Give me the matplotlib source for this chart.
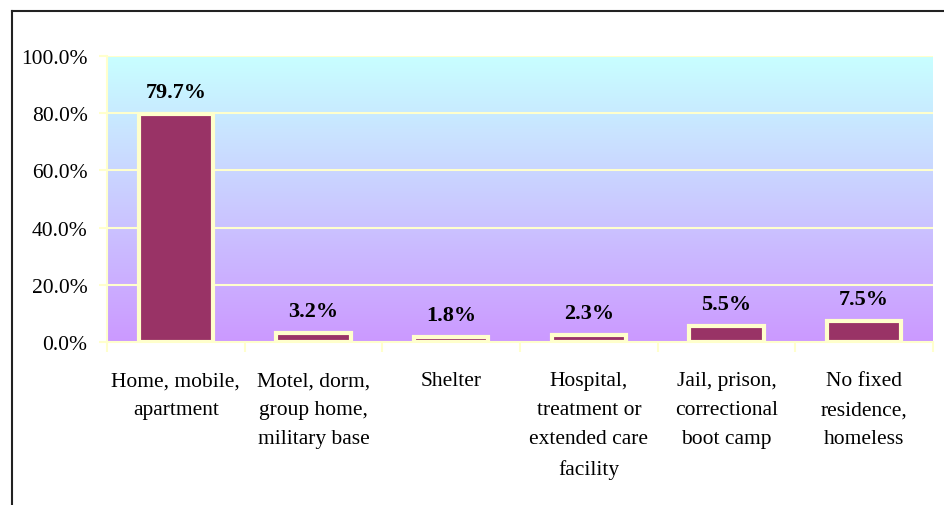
import matplotlib
matplotlib.use("Agg")
import matplotlib.pyplot as plt
import numpy as np
from matplotlib.colors import LinearSegmentedColormap
from matplotlib.lines import Line2D
from matplotlib.ticker import PercentFormatter

categories = ["Home, mobile,\napartment", "Motel, dorm,\ngroup home,\nmilitary base",
              "Shelter", "Hospital,\ntreatment or\nextended care\nfacility",
              "Jail, prison,\ncorrectional\nboot camp", "No fixed\nresidence,\nhomeless"]
values = [79.7, 3.2, 1.8, 2.3, 5.5, 7.5]
yticks = [0, 20, 40, 60, 80, 100]

plt.rcParams['font.family'] = ['Liberation Serif', 'DejaVu Serif']

fig = plt.figure(figsize=(9.45, 5.06), dpi=100)
ax = fig.add_axes([107/945, 1-343/506, (933-107)/945, (343-57)/506])

n = len(categories)
# gradient background
cmap = LinearSegmentedColormap.from_list("bg", ["#CC99FF", "#C8FFFF"])
grad = np.linspace(0, 1, 256).reshape(-1, 1)
ax.imshow(grad, aspect='auto', cmap=cmap, origin='lower',
          extent=[-0.5, n-0.5, 0, 100], zorder=0)

grid_c = "#FFFFCC"
for t in yticks[1:]:
    ax.axhline(t, color=grid_c, lw=1.5, zorder=1)

x = np.arange(n)
ax.bar(x, values, width=0.54, color="#993366", edgecolor=grid_c, linewidth=3, zorder=3)
for xi, v in zip(x, values):
    ax.text(xi, v + 4.2, f"{v:.1f}%", ha='center', va='bottom', fontsize=16,
            fontweight='bold', color='black', zorder=4)

ax.set_xlim(-0.5, n-0.5)
ax.set_ylim(0, 100)
ax.set_yticks(yticks)
ax.yaxis.set_major_formatter(PercentFormatter(decimals=1))
ax.set_xticks(x)
ax.set_xticklabels(categories, fontsize=15.5, va='top', linespacing=1.72)
ax.set_xticks(np.arange(n+1) - 0.5, minor=True)
ax.tick_params(axis='x', which='major', length=0, pad=21)
ax.tick_params(axis='x', which='minor', length=7, color=grid_c, width=1.5)
ax.tick_params(axis='y', length=6, color=grid_c, width=1.5, labelsize=15.5, pad=8)

for s in ['top', 'right']:
    ax.spines[s].set_visible(False)
for s in ['left', 'bottom']:
    ax.spines[s].set_color(grid_c)
    ax.spines[s].set_linewidth(1.5)

# outer frame lines
fig.add_artist(Line2D([12/945, 12/945], [0, 1-12/506], color='#222222', lw=1.5, transform=fig.transFigure))
fig.add_artist(Line2D([12/945, 1], [1-12/506, 1-12/506], color='#222222', lw=1.5, transform=fig.transFigure))

fig.savefig("out.png", dpi=100)
